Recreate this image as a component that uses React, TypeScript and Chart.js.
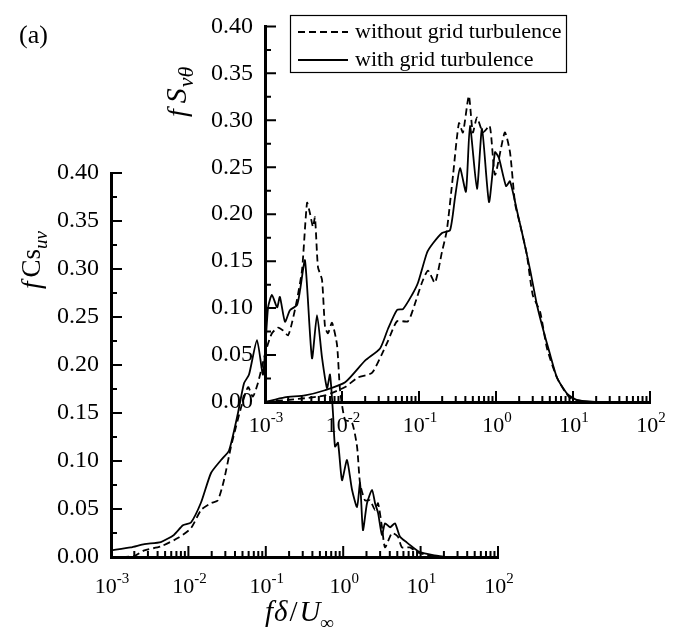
import React, { useEffect, useRef } from 'react';
import { Chart, registerables } from 'chart.js';

Chart.register(...registerables);

const W = 685;
const H = 638;
const FONT = '"Liberation Serif", "Times New Roman", Times, serif';

// ---- labels ----
const seriesLabels = ['without grid turbulence', 'with grid turbulence'];
const xTickExponents = [-3, -2, -1, 0, 1, 2];
const yMin = 0;
const yMax = 0.4;
const yTickStep = 0.05;

// ---- lower panel: f Cs_uv ----
const csFreqWithout = [0.001, 0.002, 0.0027, 0.0044, 0.0074, 0.0108, 0.0146, 0.0196, 0.024, 0.0288, 0.0355, 0.041, 0.048, 0.059, 0.068, 0.079, 0.089, 0.104, 0.12, 0.144, 0.167, 0.194, 0.218, 0.253, 0.294, 0.341, 0.372, 0.407, 0.432, 0.472, 0.532, 0.582, 0.636, 0.717, 0.832, 0.91, 1.055, 1.3, 1.51, 1.65, 1.91, 2.22, 2.58, 2.82, 3.17, 3.47, 4.27, 5.1, 5.75, 7.3, 8.98, 12.1, 16.3];
const csWithout = [0.0, 0.001, 0.007, 0.011, 0.02, 0.03, 0.049, 0.056, 0.059, 0.08, 0.115, 0.135, 0.156, 0.177, 0.167, 0.181, 0.198, 0.219, 0.233, 0.239, 0.236, 0.231, 0.244, 0.268, 0.299, 0.369, 0.358, 0.344, 0.354, 0.302, 0.289, 0.24, 0.233, 0.244, 0.221, 0.174, 0.143, 0.14, 0.115, 0.077, 0.059, 0.059, 0.049, 0.056, 0.031, 0.01, 0.025, 0.021, 0.01, 0.01, 0.005, 0.002, 0.0];
const csFreqWith = [0.001, 0.0018, 0.0027, 0.0044, 0.0065, 0.0085, 0.0108, 0.0146, 0.0196, 0.0264, 0.0335, 0.0437, 0.0523, 0.0607, 0.077, 0.092, 0.107, 0.12, 0.14, 0.152, 0.177, 0.205, 0.253, 0.277, 0.321, 0.395, 0.459, 0.532, 0.618, 0.675, 0.738, 0.784, 0.857, 0.965, 1.12, 1.3, 1.51, 1.65, 1.8, 2.03, 2.36, 2.58, 2.82, 3.17, 3.47, 4.03, 4.67, 5.42, 6.67, 7.98, 9.8, 14.5, 21.9];
const csWith = [0.007, 0.01, 0.0135, 0.0156, 0.023, 0.033, 0.036, 0.057, 0.0875, 0.101, 0.111, 0.15, 0.181, 0.19, 0.226, 0.19, 0.26, 0.273, 0.26, 0.271, 0.245, 0.257, 0.2625, 0.278, 0.309, 0.207, 0.252, 0.208, 0.176, 0.19, 0.15, 0.115, 0.119, 0.08, 0.101, 0.07, 0.052, 0.077, 0.028, 0.056, 0.07, 0.056, 0.046, 0.023, 0.035, 0.031, 0.035, 0.021, 0.015, 0.01, 0.005, 0.002, 0.0];

// ---- upper panel: f S_vθ ----
const svFreqWithout = [0.001, 0.0033, 0.006, 0.011, 0.016, 0.0245, 0.033, 0.0396, 0.0518, 0.072, 0.088, 0.109, 0.131, 0.161, 0.199, 0.23, 0.277, 0.33, 0.372, 0.444, 0.5, 0.566, 0.677, 0.83, 0.971, 1.3, 1.52, 1.77, 2.04, 2.5, 3.0, 3.74, 4.6, 6.2, 9.0, 15];
const svWithout = [0.0, 0.004, 0.007, 0.016, 0.026, 0.031, 0.051, 0.065, 0.086, 0.086, 0.104, 0.127, 0.14, 0.127, 0.16, 0.183, 0.242, 0.297, 0.287, 0.326, 0.287, 0.303, 0.287, 0.294, 0.242, 0.287, 0.266, 0.211, 0.19, 0.158, 0.114, 0.096, 0.057, 0.026, 0.005, 0.0];
const svFreqWith = [0.001, 0.0018, 0.0033, 0.006, 0.011, 0.0199, 0.0312, 0.0396, 0.0518, 0.062, 0.081, 0.097, 0.127, 0.152, 0.199, 0.253, 0.294, 0.341, 0.407, 0.459, 0.566, 0.658, 0.811, 0.971, 1.09, 1.35, 1.52, 1.87, 2.24, 2.77, 3.41, 4.07, 5.02, 6.19, 8.36, 11.3, 20.4];
const svWith = [0.0, 0.005, 0.007, 0.0125, 0.021, 0.044, 0.057, 0.078, 0.098, 0.099, 0.114, 0.127, 0.159, 0.169, 0.18, 0.183, 0.218, 0.249, 0.224, 0.294, 0.227, 0.291, 0.213, 0.266, 0.26, 0.23, 0.235, 0.204, 0.176, 0.141, 0.103, 0.078, 0.051, 0.026, 0.009, 0.002, 0.0];

const pts = (xs: number[], ys: number[]) => xs.map((x, i) => ({ x, y: ys[i] }));

type Part = { t: string; italic?: boolean; size: number; dy?: number; gap?: number };
function richWidth(ctx: CanvasRenderingContext2D, parts: Part[]) {
  let w = 0;
  for (const p of parts) {
    ctx.font = `${p.italic ? 'italic ' : ''}${p.size}px ${FONT}`;
    w += ctx.measureText(p.t).width + (p.gap || 0);
  }
  return w;
}
function drawRich(ctx: CanvasRenderingContext2D, parts: Part[], x: number, y: number, rotate: boolean) {
  ctx.save();
  ctx.translate(x, y);
  if (rotate) ctx.rotate(-Math.PI / 2);
  ctx.fillStyle = '#000';
  ctx.textBaseline = 'alphabetic';
  ctx.textAlign = 'left';
  let cx = 0;
  for (const p of parts) {
    ctx.font = `${p.italic ? 'italic ' : ''}${p.size}px ${FONT}`;
    ctx.fillText(p.t, cx, p.dy || 0);
    cx += ctx.measureText(p.t).width + (p.gap || 0);
  }
  ctx.restore();
}

// inward tick marks + decade labels with real superscripts, placed by the chart's own scales
function makeAxisPlugin(labelDrop: number) {
  return {
    id: 'inwardTicks',
    afterDraw(chart: any) {
      const { ctx, chartArea: a, scales } = chart;
      const x = scales.x;
      const y = scales.y;
      ctx.save();
      ctx.strokeStyle = '#000';
      ctx.lineWidth = 2;
      ctx.beginPath();
      for (let e = xTickExponents[0]; e <= xTickExponents[xTickExponents.length - 1]; e++) {
        for (let m = 1; m <= 9; m++) {
          const v = m * Math.pow(10, e);
          if (v > x.max * 1.0001) break;
          const px = x.getPixelForValue(v);
          const len = m === 1 ? 11 : 6;
          ctx.moveTo(px, a.bottom);
          ctx.lineTo(px, a.bottom - len);
        }
      }
      const n = Math.round((yMax - yMin) / (yTickStep / 2));
      for (let k = 0; k <= n; k++) {
        const v = yMin + (k * yTickStep) / 2;
        const py = y.getPixelForValue(v);
        const len = k % 2 === 0 ? 11 : 6;
        ctx.moveTo(a.left, py);
        ctx.lineTo(a.left + len, py);
      }
      ctx.stroke();
      ctx.restore();
      for (const e of xTickExponents) {
        const px = x.getPixelForValue(Math.pow(10, e));
        const parts: Part[] = [
          { t: '10', size: 22 },
          { t: String(e), size: 15, dy: -10 },
        ];
        const w = richWidth(ctx, parts);
        drawRich(ctx, parts, px - w / 2 + 1, a.bottom + labelDrop, false);
      }
    },
  };
}

const lowerDecor = {
  id: 'lowerDecor',
  afterDraw(chart: any) {
    const ctx = chart.ctx;
    drawRich(ctx, [{ t: '(a)', size: 26 }], 19, 43, false);
    drawRich(
      ctx,
      [
        { t: 'f', italic: true, size: 27, gap: 4 },
        { t: 'Cs', size: 27 },
        { t: 'uv', italic: true, size: 19, dy: 7 },
      ],
      40,
      289,
      true
    );
    drawRich(
      ctx,
      [
        { t: 'f', italic: true, size: 29, gap: 1 },
        { t: '\u03B4', italic: true, size: 29, gap: 2 },
        { t: '/', size: 29, gap: 2 },
        { t: 'U', italic: true, size: 29 },
        { t: '\u221E', italic: true, size: 19, dy: 8 },
      ],
      265,
      621,
      false
    );
  },
};

const upperDecor = {
  id: 'upperDecor',
  afterDraw(chart: any) {
    const ctx = chart.ctx;
    drawRich(
      ctx,
      [
        { t: 'f', italic: true, size: 28, gap: 6 },
        { t: 'S', italic: true, size: 30, gap: 1 },
        { t: 'v\u03B8', italic: true, size: 22, dy: 7 },
      ],
      186,
      117,
      true
    );
    // legend box
    ctx.save();
    ctx.strokeStyle = '#000';
    ctx.lineWidth = 1.2;
    ctx.strokeRect(290.5, 15.5, 276, 57);
    const rows = [32, 60];
    chart.data.datasets.forEach((ds: any, i: number) => {
      const yy = rows[i];
      ctx.beginPath();
      ctx.setLineDash(ds.borderDash || []);
      ctx.lineWidth = ds.borderWidth;
      ctx.moveTo(298, yy);
      ctx.lineTo(348, yy);
      ctx.stroke();
      ctx.setLineDash([]);
      ctx.fillStyle = '#000';
      ctx.font = `22px ${FONT}`;
      ctx.textBaseline = 'middle';
      ctx.textAlign = 'left';
      ctx.fillText(ds.label, 355, yy);
    });
    ctx.restore();
  },
};

const XAXIS_H = 40;

function makeConfig(
  area: { left: number; top: number; right: number; bottom: number },
  sets: { xs: number[]; ys: number[] }[],
  decor: any,
  labelDrop: number
) {
  const datasets = sets.map((s, i) => ({
    label: seriesLabels[i],
    data: pts(s.xs, s.ys),
    borderColor: '#000',
    backgroundColor: 'transparent',
    borderWidth: 1.8,
    borderDash: i === 0 ? [7, 4] : [],
    pointRadius: 0,
    tension: 0.2,
    fill: false,
  }));
  return {
    type: 'line' as const,
    data: { datasets },
    plugins: [makeAxisPlugin(labelDrop), decor],
    options: {
      responsive: false,
      maintainAspectRatio: false,
      animation: false as const,
      layout: {
        padding: { left: 0, top: area.top, right: W - area.right, bottom: H - area.bottom - XAXIS_H },
      },
      plugins: { legend: { display: false }, tooltip: { enabled: false } },
      scales: {
        x: {
          type: 'logarithmic' as const,
          min: 1e-3,
          max: 1e2,
          afterBuildTicks: (s: any) => {
            s.ticks = xTickExponents.map((e) => ({ value: Math.pow(10, e) }));
          },
          afterFit: (s: any) => {
            s.height = XAXIS_H;
          },
          grid: { display: false, drawTicks: false },
          border: { display: true, color: '#000', width: 3 },
          ticks: { display: false },
        },
        y: {
          type: 'linear' as const,
          min: yMin,
          max: yMax,
          afterFit: (s: any) => {
            s.width = area.left;
          },
          grid: { display: false, drawTicks: false },
          border: { display: true, color: '#000', width: 3 },
          ticks: {
            stepSize: yTickStep,
            padding: 12,
            color: '#000',
            font: { family: FONT, size: 24 },
            callback: (v: any) => Number(v).toFixed(2),
          },
        },
      },
    },
  };
}

export default function App() {
  const lowerRef = useRef<HTMLCanvasElement>(null);
  const upperRef = useRef<HTMLCanvasElement>(null);

  useEffect(() => {
    const lower = new Chart(
      lowerRef.current as HTMLCanvasElement,
      makeConfig(
        { left: 111, top: 173, right: 498, bottom: 557 },
        [
          { xs: csFreqWithout, ys: csWithout },
          { xs: csFreqWith, ys: csWith },
        ],
        lowerDecor,
        36
      ) as any
    );
    const upper = new Chart(
      upperRef.current as HTMLCanvasElement,
      makeConfig(
        { left: 265, top: 19, right: 650, bottom: 402 },
        [
          { xs: svFreqWithout, ys: svWithout },
          { xs: svFreqWith, ys: svWith },
        ],
        upperDecor,
        30
      ) as any
    );
    return () => {
      lower.destroy();
      upper.destroy();
    };
  }, []);

  const canvasStyle: React.CSSProperties = { position: 'absolute', left: 0, top: 0, width: W, height: H };
  return (
    <div style={{ position: 'absolute', left: 0, top: 0, width: W, height: H, background: '#fff' }}>
      <canvas ref={lowerRef} width={W} height={H} style={canvasStyle} />
      <canvas ref={upperRef} width={W} height={H} style={canvasStyle} />
    </div>
  );
}
